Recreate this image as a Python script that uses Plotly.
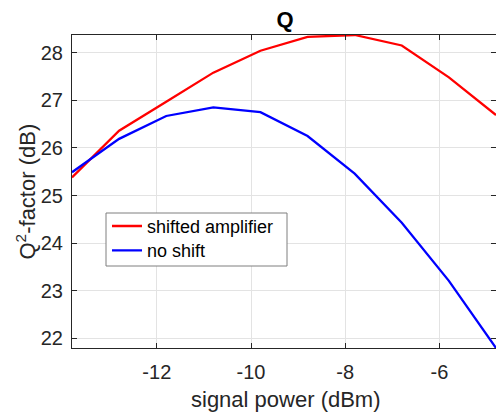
import plotly.graph_objects as go

signal_power = [-13.8, -12.8, -11.8, -10.8, -9.8, -8.8, -7.8, -6.8, -5.8, -4.8]
q_shifted = [25.38, 26.36, 26.97, 27.58, 28.04, 28.33, 28.37, 28.15, 27.48, 26.69]
q_noshift = [25.49, 26.19, 26.67, 26.85, 26.75, 26.25, 25.46, 24.43, 23.21, 21.80]
x_ticks = [-12, -10, -8, -6]
x_ticklabels = ["-12", "-10", "-8", "-6"]
y_ticks = [22, 23, 24, 25, 26, 27, 28]

FONT = "Liberation Sans, Arial, Helvetica, sans-serif"
AX = "#262626"

W, H = 496, 413
L, T = 72, 35
PLOT_R, PLOT_B = 496, 348
R, B = W - PLOT_R, H - PLOT_B
PW, PH = PLOT_R - L, PLOT_B - T


def px(xs):
    return (xs - L) / PW


def py(ys):
    return (PLOT_B - ys) / PH


fig = go.Figure()
fig.add_trace(go.Scatter(x=signal_power, y=q_shifted, mode="lines", name="shifted amplifier",
                         line=dict(color="#ff0000", width=2.3), legend="legend"))
fig.add_trace(go.Scatter(x=signal_power, y=q_noshift, mode="lines", name="no shift",
                         line=dict(color="#0000ff", width=2.3), legend="legend2"))

axis_common = dict(
    showgrid=True, gridcolor="#e3e3e3", gridwidth=1,
    showline=True, linecolor=AX, linewidth=1, mirror="ticks",
    ticks="inside", ticklen=5, tickcolor=AX,
    tickfont=dict(family=FONT, size=20, color=AX),
    zeroline=False, automargin=False,
)

legend_common = dict(xanchor="left", yanchor="middle", bgcolor="rgba(0,0,0,0)",
                     borderwidth=0, font=dict(family=FONT, size=18, color="black"),
                     itemwidth=30)

fig.update_layout(
    width=W, height=H, autosize=False,
    margin=dict(l=L, r=R, t=T, b=B, pad=0),
    paper_bgcolor="white", plot_bgcolor="white",
    title=dict(text="<b>Q</b>", x=px(285), xref="paper", xanchor="center",
               y=1 - 19 / H, yref="container", yanchor="middle",
               font=dict(family=FONT, size=22, color="black")),
    xaxis=dict(range=[-13.8, -4.8], tickvals=x_ticks, ticktext=x_ticklabels,
               ticklabelstandoff=6, **axis_common),
    yaxis=dict(range=[21.8, 28.37], tickvals=y_ticks,
               ticklabelstandoff=4, **axis_common),
    legend=dict(x=px(107), y=py(226.3), **legend_common),
    legend2=dict(x=px(107), y=py(250.7), **legend_common),
    showlegend=True,
    shapes=[
        dict(type="rect", xref="paper", yref="paper",
             x0=px(106), x1=px(287), y0=py(266), y1=py(213),
             line=dict(color="#7f7f7f", width=1), fillcolor="white", layer="above"),
    ],
    annotations=[
        dict(text="signal power (dBm)", xref="paper", yref="paper",
             x=px(285.5), y=py(399.5), xanchor="center", yanchor="middle",
             showarrow=False, font=dict(family=FONT, size=22, color=AX)),
        dict(text="Q<sup>2</sup>-factor (dB)", xref="paper", yref="paper",
             x=px(25), y=0.5, xanchor="center", yanchor="middle", textangle=-90,
             showarrow=False, font=dict(family=FONT, size=22, color=AX)),
    ],
)

post = (
    "document.body.style.margin='0';"
    "document.body.style.overflow='hidden';"
    "Plotly.relayout('{plot_id}', {width: %d, height: %d});" % (W, H)
)

fig.write_html("out.html", config={"responsive": False, "displayModeBar": False},
               post_script=post)
